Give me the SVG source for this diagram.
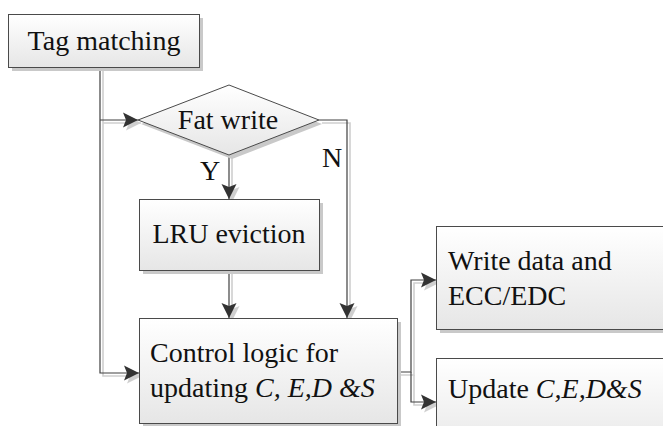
<svg xmlns="http://www.w3.org/2000/svg" width="663" height="426" viewBox="0 0 663 426">
  <style>
    .box { fill: url(#fillGrad); stroke: #4a4a4a; stroke-width: 1; }
    .shadow { fill: #c9c9c9; stroke: none; }
    .lbl { font-size: 28px; fill: #111; }
    .it { font-style: italic; }
    .wire { fill: none; stroke: #404040; stroke-width: 1.2; }
    .wire-sh { fill: none; stroke: #cfcfcf; stroke-width: 1.6; }
  </style>
  <defs>
    <linearGradient id="fillGrad" x1="0" y1="0" x2="0" y2="1">
      <stop offset="0" stop-color="#ffffff"/>
      <stop offset="1" stop-color="#e6e6e6"/>
    </linearGradient>
    <marker id="arrow" markerUnits="userSpaceOnUse" markerWidth="20" markerHeight="20" viewBox="-16 -10 18 20" refX="0" refY="0" orient="auto">
      <path d="M0,0 L-15,-7.5 L-12,0 L-15,7.5 Z" fill="#333333"/>
    </marker>
    <marker id="arrowSh" markerUnits="userSpaceOnUse" markerWidth="20" markerHeight="20" viewBox="-16 -10 18 20" refX="0" refY="0" orient="auto">
      <path d="M0,0 L-15,-7.5 L-12,0 L-15,7.5 Z" fill="#cfcfcf"/>
    </marker>
  </defs>

  <rect width="663" height="426" fill="#ffffff"/>

  <g font-family="Liberation Serif, Tinos, DejaVu Serif, serif">
  <!-- connectors: soft offset shadow first, then the line itself -->
  <g id="connectors">
    <g transform="translate(3,3)">
      <path class="wire-sh" d="M100,68 V373 H139" marker-end="url(#arrowSh)"/>
      <path class="wire-sh" d="M100,120 H138" marker-end="url(#arrowSh)"/>
      <path class="wire-sh" d="M229,155 V199" marker-end="url(#arrowSh)"/>
      <path class="wire-sh" d="M319,120 H347 V318" marker-end="url(#arrowSh)"/>
      <path class="wire-sh" d="M229,270 V318" marker-end="url(#arrowSh)"/>
      <path class="wire-sh" d="M397,372 H411 V280 H436" marker-end="url(#arrowSh)"/>
      <path class="wire-sh" d="M411,372 V402 H436" marker-end="url(#arrowSh)"/>
    </g>
    <path class="wire" d="M100,68 V373 H139" marker-end="url(#arrow)"/>
    <path class="wire" d="M100,120 H138" marker-end="url(#arrow)"/>
    <path class="wire" d="M229,155 V199" marker-end="url(#arrow)"/>
    <path class="wire" d="M319,120 H347 V318" marker-end="url(#arrow)"/>
    <path class="wire" d="M229,270 V318" marker-end="url(#arrow)"/>
    <path class="wire" d="M397,372 H411 V280 H436" marker-end="url(#arrow)"/>
    <path class="wire" d="M411,372 V402 H436" marker-end="url(#arrow)"/>
    <text class="lbl" x="210" y="180" text-anchor="middle">Y</text>
    <text class="lbl" x="332" y="167" text-anchor="middle">N</text>
  </g>

  <g id="tag-matching">
    <rect class="shadow" x="12" y="18" width="191" height="53"/>
    <rect class="box" x="8.5" y="14.5" width="191" height="53"/>
    <text class="lbl" x="104" y="50" text-anchor="middle">Tag matching</text>
  </g>

  <g id="fat-write">
    <polygon class="shadow" points="141,124 232,89 322,124 232,159"/>
    <polygon class="box" points="138,120 229,85 319,120 229,155"/>
    <text class="lbl" x="228" y="129" text-anchor="middle">Fat write</text>
  </g>

  <g id="lru-eviction">
    <rect class="shadow" x="143" y="203" width="180" height="71"/>
    <rect class="box" x="139.5" y="199.5" width="180" height="71"/>
    <text class="lbl" x="229" y="243" text-anchor="middle">LRU eviction</text>
  </g>

  <g id="control-logic">
    <rect class="shadow" x="143" y="322" width="258" height="106"/>
    <rect class="box" x="139.5" y="318.5" width="258" height="105"/>
    <text class="lbl" x="150" y="362">Control logic for</text>
    <text class="lbl" x="150" y="397">updating <tspan class="it">C, E,D &amp;S</tspan></text>
  </g>

  <g id="write-data">
    <rect class="shadow" x="440" y="230" width="240" height="103"/>
    <rect class="box" x="436.5" y="226.5" width="240" height="103"/>
    <text class="lbl" x="448" y="270">Write data and</text>
    <text class="lbl" x="448" y="305">ECC/EDC</text>
  </g>

  <g id="update-state">
    <rect class="shadow" x="440" y="362" width="240" height="100"/>
    <rect class="box" x="436.5" y="358.5" width="240" height="100"/>
    <text class="lbl" x="448" y="398">Update <tspan class="it">C,E,D&amp;S</tspan></text>
  </g>
  </g>
</svg>
